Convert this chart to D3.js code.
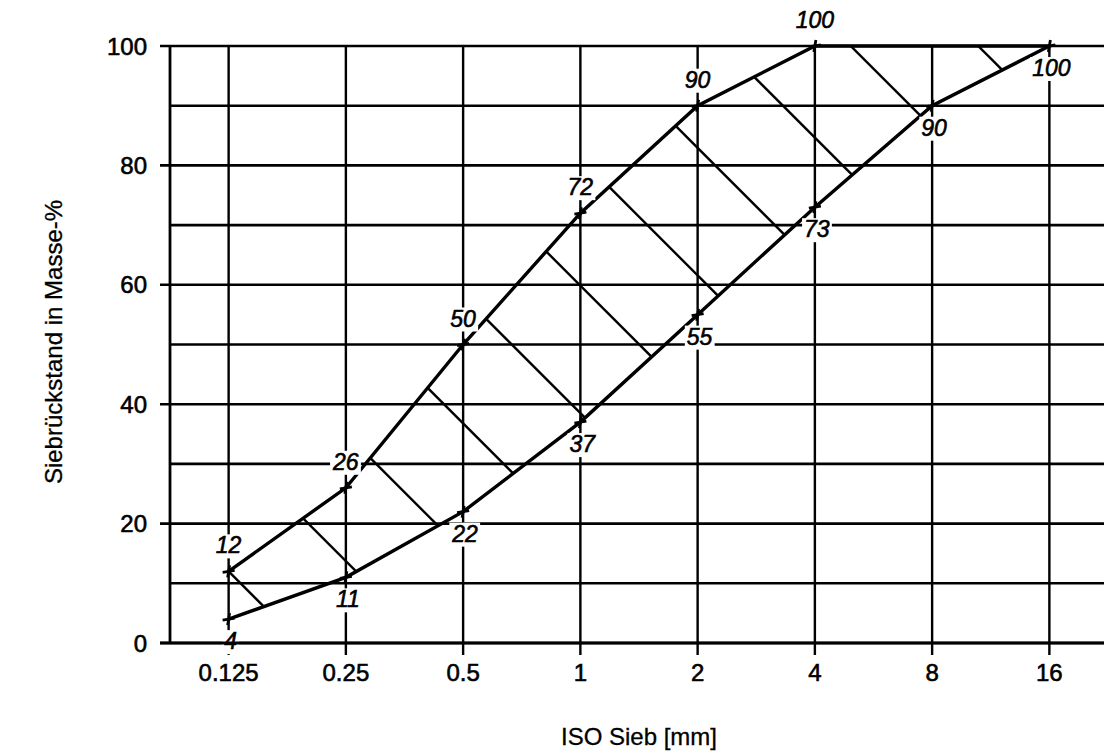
<!DOCTYPE html>
<html>
<head>
<meta charset="utf-8">
<script src="https://cdn.jsdelivr.net/npm/d3@7"></script>
<style>
body { margin: 0; background: #fff; }
text { font-family: "Liberation Sans", Arial, sans-serif; fill: #000; stroke: #000; stroke-width: 0.6px; }
</style>
</head>
<body>
<div id="chart"></div>
<script>
// Sieblinie: Grenzkurven fuer den Siebrueckstand
const sieves = ["0.125", "0.25", "0.5", "1", "2", "4", "8", "16"];
const upper = [12, 26, 50, 72, 90, 100, 100, 100];
const lower = [4, 11, 22, 37, 55, 73, 90, 100];
const upperLabels = ["12", "26", "50", "72", "90", "100", null, null];
const lowerLabels = ["4", "11", "22", "37", "55", "73", "90", "100"];
const yTicks = [0, 20, 40, 60, 80, 100];
const yGrid = [0, 10, 20, 30, 40, 50, 60, 70, 80, 90, 100];

const w = 1104;
const h = 751;
const svg = d3.select('#chart').append("svg")
              .attr("width", w)
              .attr("height", h);

const x = d3.scalePoint().domain(sieves).range([170, 1108]).padding(0.5);
const y = d3.scaleLinear().domain([0, 100]).range([643, 46]);

// grid
svg.selectAll("line.hgrid")
   .data(yGrid)
   .enter()
   .append("line")
   .attr("class", "hgrid")
   .attr("x1", d => d % 20 === 0 ? 160 : 170)
   .attr("x2", w)
   .attr("y1", d => y(d))
   .attr("y2", d => y(d))
   .style("stroke", "#000")
   .style("stroke-width", 2.6);

svg.selectAll("line.vgrid")
   .data(sieves)
   .enter()
   .append("line")
   .attr("class", "vgrid")
   .attr("x1", d => x(d))
   .attr("x2", d => x(d))
   .attr("y1", y(100))
   .attr("y2", y(0) + 12)
   .style("stroke", "#000")
   .style("stroke-width", 2.4);

// band between the two curves, hatched
const idx = d3.range(sieves.length);
const band = d3.area()
               .x(i => x(sieves[i]))
               .y0(i => y(lower[i]))
               .y1(i => y(upper[i]));

svg.append("clipPath").attr("id", "band")
   .append("path").attr("d", band(idx));

const hatchStep = 127.5;
const c0 = x(sieves[0]) - y(upper[0]);
const cEnd = x(sieves[sieves.length - 1]) - y(100);
const hatch = d3.range(c0, cEnd, hatchStep);

svg.append("g").attr("clip-path", "url(#band)")
   .selectAll("line")
   .data(hatch)
   .enter()
   .append("line")
   .attr("x1", 150).attr("y1", c => 150 - c)
   .attr("x2", 1110).attr("y2", c => 1110 - c)
   .style("stroke", "#000")
   .style("stroke-width", 2.4);

// curves
const curve = vals => d3.line()
                        .x(i => x(sieves[i]))
                        .y(i => y(vals[i]))(idx);

[upper, lower].forEach(vals => {
    svg.append("path")
       .attr("d", curve(vals))
       .style("fill", "none")
       .style("stroke", "#000")
       .style("stroke-width", 3.4);
});

// point markers and labels
const points = [];
idx.forEach(i => {
    if (upperLabels[i]) points.push({s: sieves[i], v: upper[i], t: upperLabels[i], dy: -18, dx: 0});
    if (lowerLabels[i]) points.push({s: sieves[i], v: lower[i], t: lowerLabels[i], dy: 30, dx: 2});
});

const mk = svg.append("g");
points.forEach(p => {
    const px = x(p.s), py = y(p.v);
    mk.append("line").attr("x1", px - 6).attr("x2", px + 6).attr("y1", py + 1).attr("y2", py - 1)
      .style("stroke", "#000").style("stroke-width", 2.8);
    mk.append("line").attr("x1", px - 1).attr("x2", px + 1).attr("y1", py + 6).attr("y2", py - 6)
      .style("stroke", "#000").style("stroke-width", 2.8);
});

const lbl = svg.append("g");
points.forEach(p => {
    const g = lbl.append("g");
    const t = g.append("text")
               .attr("x", x(p.s) + p.dx)
               .attr("y", y(p.v) + p.dy)
               .attr("text-anchor", "middle")
               .style("font-size", "23px")
               .style("font-style", "italic")
               .text(p.t);
    const b = t.node().getBBox();
    g.insert("rect", "text")
     .attr("x", b.x - 2).attr("y", b.y + 2)
     .attr("width", b.width + 4).attr("height", b.height - 2)
     .style("fill", "#fff");
});

// axes
svg.append("line")
   .attr("x1", 170).attr("x2", 170)
   .attr("y1", y(100)).attr("y2", y(0))
   .style("stroke", "#000").style("stroke-width", 2.8);
svg.append("line")
   .attr("x1", 160).attr("x2", w)
   .attr("y1", y(0)).attr("y2", y(0))
   .style("stroke", "#000").style("stroke-width", 2.8);

svg.selectAll("text.ytick")
   .data(yTicks)
   .enter()
   .append("text")
   .attr("class", "ytick")
   .attr("x", 147)
   .attr("y", d => y(d))
   .attr("dy", "0.36em")
   .attr("text-anchor", "end")
   .style("font-size", "24px")
   .text(d => d);

svg.selectAll("text.xtick")
   .data(sieves)
   .enter()
   .append("text")
   .attr("class", "xtick")
   .attr("x", d => x(d))
   .attr("y", y(0) + 38)
   .attr("text-anchor", "middle")
   .style("font-size", "24px")
   .text(d => d);

svg.append("text")
   .attr("x", 639).attr("y", 745)
   .attr("text-anchor", "middle")
   .style("font-size", "24px")
   .style("stroke-width", "0.3px")
   .text("ISO Sieb [mm]");

svg.append("text")
   .attr("transform", "translate(62,342) rotate(-90)")
   .attr("text-anchor", "middle")
   .style("font-size", "24px")
   .style("stroke-width", "0.3px")
   .text("Siebrückstand in Masse-%");
</script>
</body>
</html>
